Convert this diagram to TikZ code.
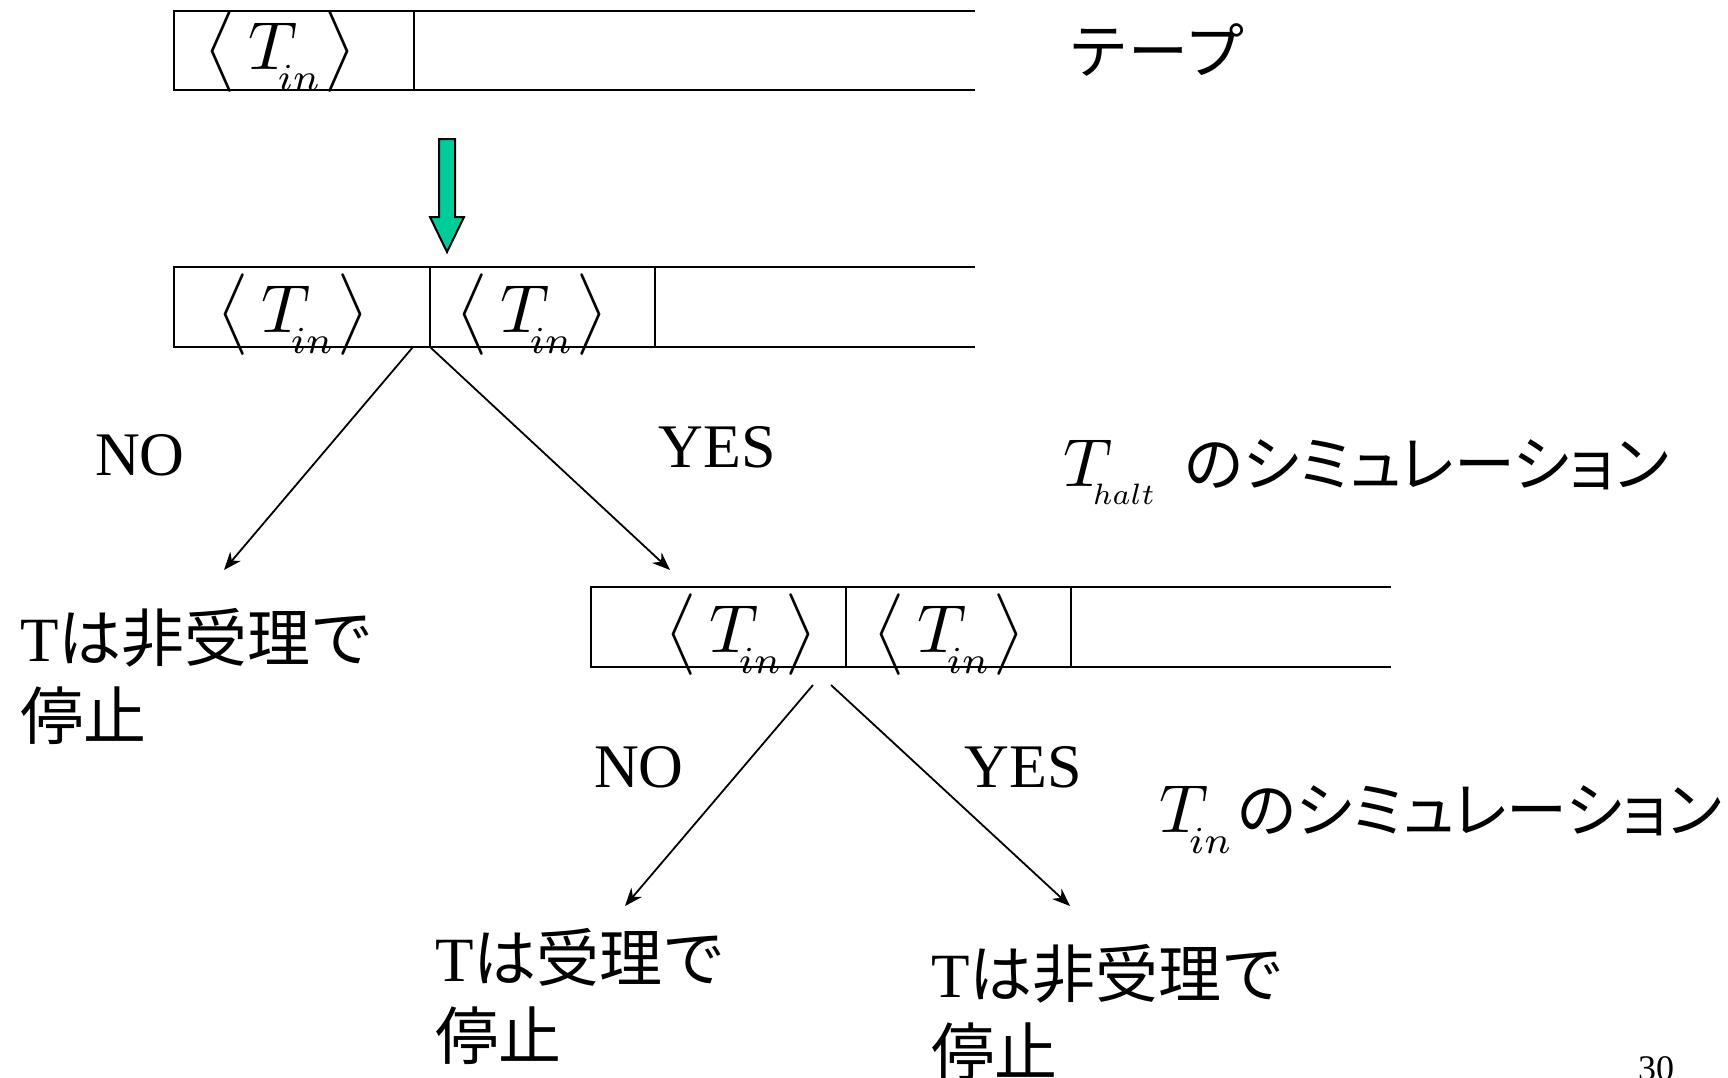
\documentclass[tikz,border=0pt]{standalone}
\usepackage{fontspec}
\setmainfont{Liberation Serif}
\newfontfamily\jp{Noto Sans CJK JP}
\newfontfamily\jpp[RawFeature=+palt]{Noto Sans CJK JP}
\usetikzlibrary{arrows.meta}
\definecolor{arrowgreen}{RGB}{0,204,153}
\tikzset{
  tapeline/.style={line width=2.6pt},
  conn/.style={line width=1.8pt,-{Stealth[length=18pt,width=14pt]}},
  lbl/.style={font=\fontsize{62}{70}\selectfont, inner sep=0pt},
  jlbl/.style={font=\fontsize{63}{78}\jp, inner sep=0pt, align=left, anchor=north west},
  simlbl/.style={font=\fontsize{61}{70}\jpp, inner sep=0pt, anchor=base west},
  cellm/.style={font=\fontsize{10}{10}\selectfont, inner sep=0pt, scale=6.8},
}
\newcommand{\insub}{\kern-1.5pt\raisebox{-1.6pt}{\scalebox{0.8}{$\scriptstyle in$}}}
\newcommand{\tin}{$\big\langle\,T_{\insub}\big\rangle$}
\newcommand{\bigmath}[1]{{\fontsize{10}{10}\selectfont\scalebox{6.8}{$#1$}}}
\begin{document}
\begin{tikzpicture}[x=1pt,y=-1pt]
\useasboundingbox (0,0) rectangle (1728,1077);
% tape 1
\draw[tapeline] (975,11) -- (174,11) -- (174,90) -- (975,90);
\draw[tapeline] (414,11) -- (414,90);
\node[cellm] (c11) at (280,52) {\tin};
\node[font=\fontsize{60}{70}\jp, inner sep=0pt, anchor=west] (tape) at (1068,50) {テープ};
% green arrow
\draw[fill=arrowgreen, line width=2pt, line join=miter]
  (439,139) -- (455,139) -- (455,217) -- (464,217) -- (447,252) -- (430,217) -- (439,217) -- cycle;
% tape 2
\draw[tapeline] (975,267) -- (174,267) -- (174,347) -- (975,347);
\draw[tapeline] (430,267) -- (430,347);
\draw[tapeline] (655,267) -- (655,347);
\node[cellm] (c21) at (293,315) {\tin};
\node[cellm] (c22) at (532,315) {\tin};
\coordinate (s2l) at (413,347);
\coordinate (s2r) at (430,347);
\coordinate (e2l) at (224,570);
\coordinate (e2r) at (670,570);
\draw[conn] (s2l) -- (e2l);
\draw[conn] (s2r) -- (e2r);
\node[lbl] (no1) at (140,455) {NO};
\node[lbl] (yes1) at (717,447) {YES};
\node[simlbl] (sim1) at (1063,486) {\bigmath{T_{\kern-1.5pt\raisebox{-1.2pt}{\scalebox{0.62}{$\scriptstyle halt$}}}}\hspace{27pt}のシミュレーション};
\node[jlbl] (lblA) at (20,608) {{\rmfamily T}は非受理で\\停止};
% tape 3
\draw[tapeline] (1391,587) -- (591,587) -- (591,667) -- (1391,667);
\draw[tapeline] (846,587) -- (846,667);
\draw[tapeline] (1071,587) -- (1071,667);
\node[cellm] (c31) at (741,635) {\tin};
\node[cellm] (c32) at (949,635) {\tin};
\coordinate (s3l) at (813,685);
\coordinate (s3r) at (831,685);
\coordinate (e3l) at (625,906);
\coordinate (e3r) at (1070,906);
\draw[conn] (s3l) -- (e3l);
\draw[conn] (s3r) -- (e3r);
\node[lbl] (no2) at (639,767) {NO};
\node[lbl] (yes2) at (1023,767) {YES};
\node[simlbl] (sim2) at (1159,832) {\bigmath{T_{\insub}}\hspace{3pt}のシミュレーション};
\node[jlbl] (lblB) at (435,928) {{\rmfamily T}は受理で\\停止};
\node[jlbl] (lblC) at (931,944) {{\rmfamily T}は非受理で\\停止};
\node[font=\fontsize{36}{40}\selectfont, inner sep=0pt, anchor=north] (pg) at (1656,1056) {30};
\end{tikzpicture}
\end{document}
